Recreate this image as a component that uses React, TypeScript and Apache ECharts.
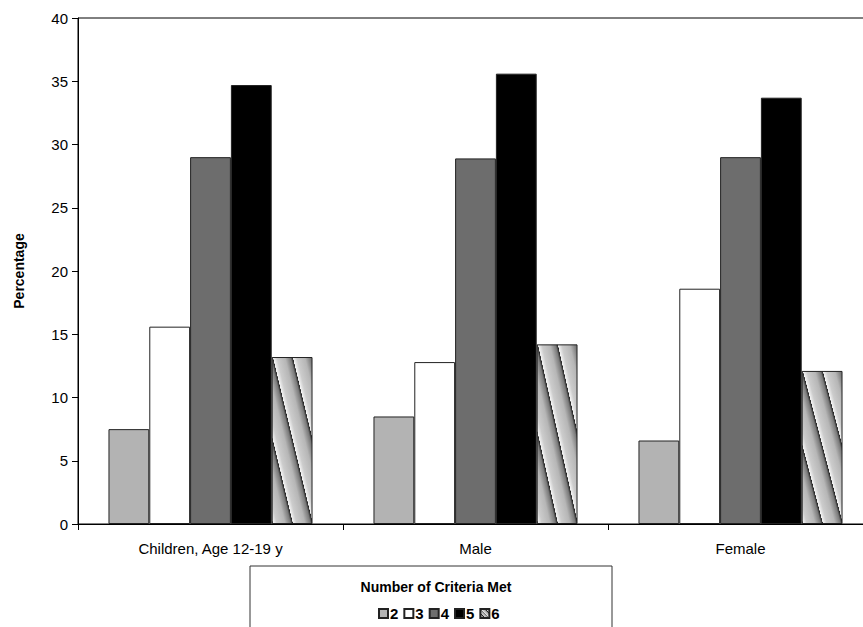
import React, { useEffect, useRef } from "react";
import * as echarts from "echarts";

const categories = ["Children, Age 12-19 y", "Male", "Female"];
const seriesNames = ["2", "3", "4", "5", "6"];
const values2 = [7.5, 8.5, 6.6];
const values3 = [15.6, 12.8, 18.6];
const values4 = [29.0, 28.9, 29.0];
const values5 = [34.7, 35.6, 33.7];
const values6 = [13.2, 14.2, 12.1];
const yTicks = [0, 5, 10, 15, 20, 25, 30, 35, 40];

function stripeGradient() {
  const stops: { offset: number; color: string }[] = [];
  const periods = 4;
  const shift = 0.01;
  const raw: { offset: number; color: string }[] = [];
  for (let k = -1; k <= periods; k++) {
    const b = k / periods + shift;
    const p = 1 / periods;
    raw.push({ offset: b + 0.002, color: "#f4f4f4" });
    raw.push({ offset: b + p * 0.2, color: "#cccccc" });
    raw.push({ offset: b + p * 0.6, color: "#b6b6b6" });
    raw.push({ offset: b + p * 0.88, color: "#7a7a7a" });
    raw.push({ offset: b + p - 0.002, color: "#222222" });
  }
  raw.forEach((s) => {
    if (s.offset >= 0 && s.offset <= 1) stops.push(s);
  });
  return new echarts.graphic.LinearGradient(0, 1, 1, 0, stops);
}

export default function App() {
  const ref = useRef<HTMLDivElement>(null);
  useEffect(() => {
    if (!ref.current) return;
    const chart = echarts.init(ref.current, null, { renderer: "svg" });
    const fills = ["#b3b3b3", "#ffffff", "#6d6d6d", "#000000", stripeGradient()];
    const data = [values2, values3, values4, values5, values6];
    chart.setOption({
      animation: false,
      backgroundColor: "#ffffff",
      textStyle: { fontFamily: "Liberation Sans, Arial, sans-serif" },
      title: {
        text: "Number of Criteria Met",
        left: 431,
        textAlign: "center",
        top: 575,
        textStyle: { fontSize: 14, fontWeight: "bold", color: "#000" },
      },
      legend: {
        data: seriesNames,
        left: 373,
        top: 601,
        icon: "rect",
        itemWidth: 9,
        itemHeight: 9,
        itemGap: 5,
        textStyle: { fontSize: 15, fontWeight: "bold", color: "#000", padding: [0, 0, 0, -3] },
      },
      graphic: [
        {
          type: "rect",
          shape: { x: 250, y: 566, width: 362, height: 80 },
          style: { fill: "none", stroke: "#333", lineWidth: 1 },
          silent: true,
        },
      ],
      grid: { left: 78, top: 18, bottom: 103, right: 7, show: true, borderColor: "#000", borderWidth: 1 },
      xAxis: {
        type: "category",
        data: categories,
        axisLine: { lineStyle: { color: "#000", width: 1 } },
        axisTick: { show: true, length: 6, alignWithLabel: false, lineStyle: { color: "#000" } },
        axisLabel: { fontSize: 15, color: "#000", margin: 17 },
      },
      yAxis: {
        type: "value",
        min: yTicks[0],
        max: yTicks[yTicks.length - 1],
        interval: 5,
        name: "Percentage",
        nameLocation: "middle",
        nameGap: 52,
        nameTextStyle: { fontSize: 14, fontWeight: "bold", color: "#000" },
        axisLine: { show: true, lineStyle: { color: "#000", width: 1 } },
        axisTick: { show: true, length: 6, lineStyle: { color: "#000" } },
        axisLabel: { fontSize: 15, color: "#000", margin: 10 },
        splitLine: { show: false },
      },
      series: seriesNames.map((name, i) => ({
        name,
        type: "bar",
        data: data[i],
        barGap: "0%",
        barCategoryGap: "23%",
        itemStyle: { color: fills[i], borderColor: "#222", borderWidth: 1 },
      })),
    });
    return () => chart.dispose();
  }, []);
  return (
    <div style={{ position: "fixed", left: 0, top: 0, width: 863, height: 627, overflow: "hidden" }}>
      <div ref={ref} style={{ width: 880, height: 627 }} />
    </div>
  );
}
